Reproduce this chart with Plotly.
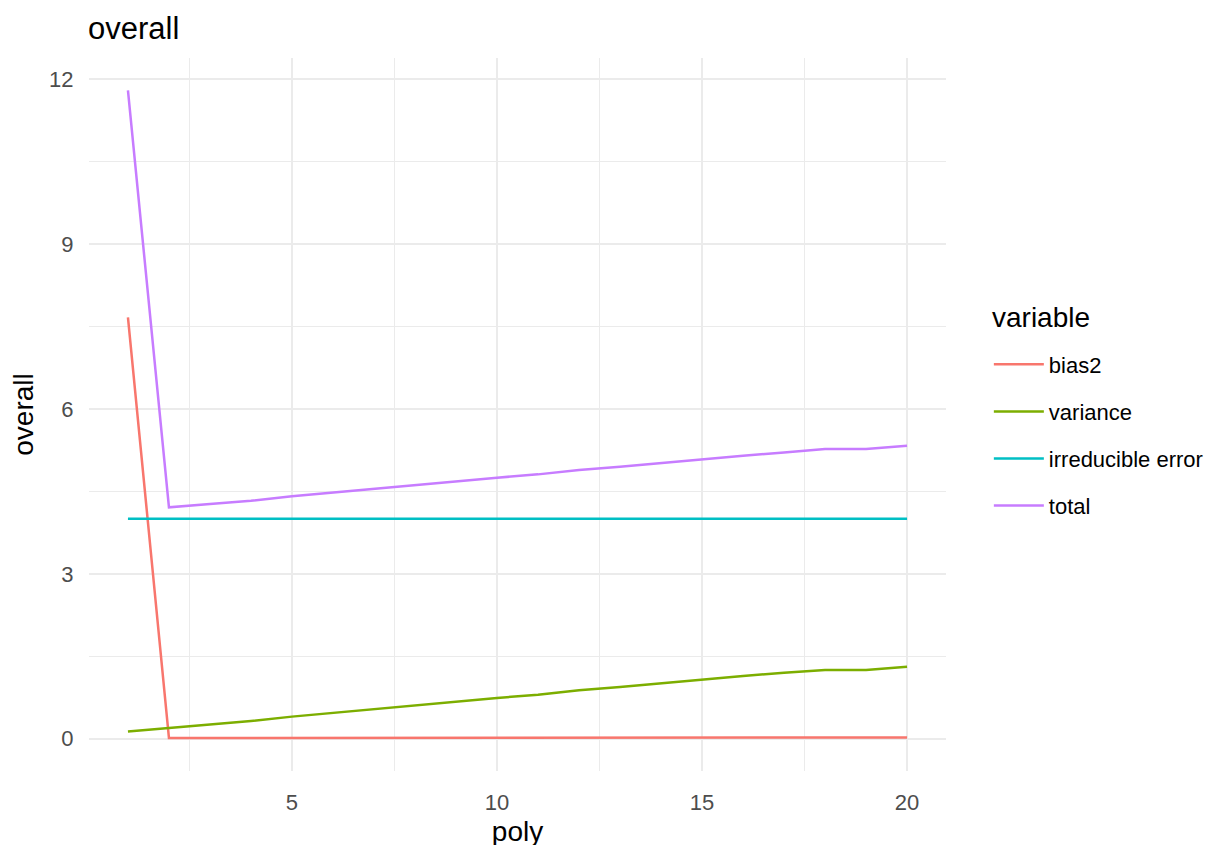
import plotly.graph_objects as go

# degree of the polynomial fit
poly = list(range(1, 21))

# values
bias2 = [7.67, 0.01, 0.01, 0.01, 0.01, 0.01, 0.01, 0.01, 0.01, 0.01,
         0.01, 0.01, 0.01, 0.01, 0.01, 0.01, 0.01, 0.02, 0.02, 0.02]
variance = [0.13, 0.19, 0.26, 0.32, 0.40, 0.47, 0.53, 0.60, 0.67, 0.74,
            0.80, 0.88, 0.94, 1.01, 1.08, 1.14, 1.20, 1.25, 1.25, 1.31]
irreducible = [4.0] * 20
total = [11.80, 4.21, 4.27, 4.33, 4.41, 4.48, 4.54, 4.61, 4.68, 4.75,
         4.81, 4.89, 4.95, 5.02, 5.09, 5.15, 5.21, 5.27, 5.27, 5.33]

series = [
    ("bias2", bias2, "#F8766D"),
    ("variance", variance, "#7CAE00"),
    ("irreducible error", irreducible, "#00BFC4"),
    ("total", total, "#C77CFF"),
]

fig = go.Figure()
for name, vals, col in series:
    # one legend group per trace so tracegroupgap spreads the rows like ggplot
    fig.add_trace(go.Scatter(x=poly, y=vals, mode="lines", name=name, legendgroup=name,
                             line=dict(color=col, width=2.5)))

fam = "Liberation Sans, Arial, sans-serif"
grid = "#EBEBEB"
tickfont = dict(family=fam, size=22, color="#4D4D4D")
titlefont = dict(family=fam, size=28, color="black")

# page body is offset ~8px in the browser, so margins are shifted to compensate
fig.update_layout(
    width=1223, height=845,
    margin=dict(l=79, r=285, t=50, b=81),
    plot_bgcolor="white", paper_bgcolor="white",
    font=dict(family=fam, color="black"),
    title=dict(text="overall", x=80/1223, xref="container", xanchor="left",
               y=1-9/845, yref="container", yanchor="top", pad=dict(t=0, b=0),
               font=dict(family=fam, size=31, color="black")),
    legend=dict(x=1.05, xanchor="left", y=0.5996, yanchor="top",
                font=dict(family=fam, size=22, color="black"),
                itemwidth=50, tracegroupgap=15.5),
    # legend title drawn as a separate text so its gap to the keys can be set
    annotations=[dict(text="variable", x=1.051, y=0.636, xref="paper", yref="paper",
                      xanchor="left", yanchor="middle", showarrow=False,
                      font=titlefont)],
)

fig.update_xaxes(range=[0.05, 20.95], tickvals=[5, 10, 15, 20],
                 showgrid=True, gridcolor=grid, gridwidth=2, zeroline=False,
                 showline=False, ticks="outside", ticklen=12, tickcolor="rgba(0,0,0,0)",
                 tickfont=tickfont,
                 minor=dict(tickvals=[2.5, 7.5, 12.5, 17.5], showgrid=True,
                            gridcolor=grid, gridwidth=1.2),
                 title=dict(text="poly", font=titlefont, standoff=6))
fig.update_yaxes(range=[-0.59, 12.39], tickvals=[0, 3, 6, 9, 12],
                 showgrid=True, gridcolor=grid, gridwidth=2, zeroline=False,
                 showline=False, ticks="outside", ticklen=10, tickcolor="rgba(0,0,0,0)",
                 tickfont=tickfont,
                 minor=dict(tickvals=[1.5, 4.5, 7.5, 10.5], showgrid=True,
                            gridcolor=grid, gridwidth=1.2),
                 title=dict(text="overall", font=titlefont, standoff=10))

fig.write_html("out.html")
